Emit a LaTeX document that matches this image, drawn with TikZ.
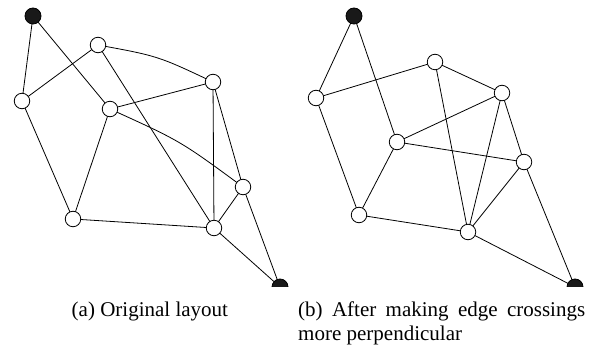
\documentclass[tikz,border=0pt]{standalone}
\usepackage{fontspec}
\setmainfont{Liberation Serif}
\begin{document}
\begin{tikzpicture}[x=1pt,y=-1pt,
  vtx/.style={circle,draw=black,fill=white,line width=0.8pt,minimum size=15.5pt,inner sep=0pt},
  term/.style={circle,draw=black,fill=black!90,line width=0.8pt,minimum size=16pt,inner sep=0pt},
  link/.style={line width=0.8pt},
  captext/.style={inner sep=0pt,font=\fontsize{21}{24}\selectfont}]
\useasboundingbox (0,0) rectangle (601,347);

\begin{scope}
\clip (0,0) rectangle (601,286);
% (a) original layout
\coordinate (a-A) at (33,16);
\coordinate (a-B) at (98,45);
\coordinate (a-C) at (22,101);
\coordinate (a-D) at (110,109);
\coordinate (a-E) at (213,82);
\coordinate (a-F) at (243,187);
\coordinate (a-G) at (73,219);
\coordinate (a-H) at (214,228);
\coordinate (a-I) at (280,287);
% control points of the two slightly curved edges
\coordinate (a-BE) at (158,56);
\coordinate (a-DF) at (180.5,141);
% (b) after making edge crossings more perpendicular
\coordinate (b-A) at (354,16);
\coordinate (b-B) at (435,62);
\coordinate (b-C) at (316,98);
\coordinate (b-D) at (397,142);
\coordinate (b-E) at (502,93);
\coordinate (b-F) at (524,162);
\coordinate (b-G) at (359,215);
\coordinate (b-H) at (468,232);
\coordinate (b-I) at (575,287);

\foreach \g in {a,b} {
  \draw[link] (\g-A) -- (\g-C);
  \draw[link] (\g-A) -- (\g-D);
  \draw[link] (\g-C) -- (\g-B);
  \draw[link] (\g-C) -- (\g-G);
  \draw[link] (\g-B) -- (\g-H);
  \draw[link] (\g-D) -- (\g-E);
  \draw[link] (\g-D) -- (\g-G);
  \draw[link] (\g-E) -- (\g-H);
  \draw[link] (\g-E) -- (\g-F);
  \draw[link] (\g-F) -- (\g-H);
  \draw[link] (\g-F) -- (\g-I);
  \draw[link] (\g-G) -- (\g-H);
  \draw[link] (\g-H) -- (\g-I);
}
\draw[link] (a-B) .. controls (a-BE) .. (a-E);
\draw[link] (a-D) .. controls (a-DF) .. (a-F);
\draw[link] (b-B) -- (b-E);
\draw[link] (b-D) -- (b-F);

\foreach \g in {a,b} {
  \node[term] (\g-nA) at (\g-A) {};
  \node[term] (\g-nI) at (\g-I) {};
  \foreach \v in {B,C,D,E,F,G,H}
    \node[vtx] (\g-n\v) at (\g-\v) {};
}
\end{scope}

\node[captext,anchor=base west] (capa) at (71.5,316) {(a) Original layout};
\node[captext,anchor=north west,text width=287pt,align=justify] (capb) at (298,301.5)
  {(b) After making edge crossings more perpendicular};
\end{tikzpicture}
\end{document}
